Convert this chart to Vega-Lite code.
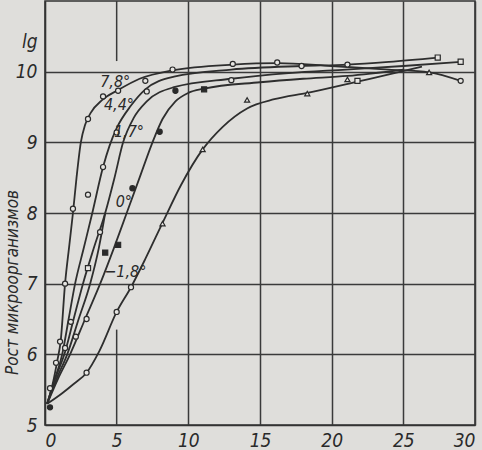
{
  "$schema": "https://vega.github.io/schema/vega-lite/v6.json",
  "width": 430,
  "height": 424,
  "autosize": {"type": "none"},
  "padding": {"left": 45, "top": 1, "right": 7, "bottom": 25},
  "background": "#dfdedb",
  "config": {
    "view": {"stroke": "#333333", "strokeWidth": 1.6},
    "axis": {
      "labelFont": "DejaVu Sans Condensed, Liberation Sans, sans-serif",
      "labelFontStyle": "italic",
      "labelFontSize": 19,
      "labelColor": "#2a2a2a",
      "ticks": false,
      "domainColor": "#333333",
      "domainWidth": 1.6,
      "gridWidth": 1.5
    }
  },
  "datasets": {
    "curves": [
      {"c": "7.8", "x": 0.15, "y": 5.3}, {"c": "7.8", "x": 0.5, "y": 5.55}, {"c": "7.8", "x": 0.85, "y": 5.9}, {"c": "7.8", "x": 1.1, "y": 6.2}, {"c": "7.8", "x": 1.4, "y": 7.0}, {"c": "7.8", "x": 1.7, "y": 7.55}, {"c": "7.8", "x": 1.95, "y": 8.0}, {"c": "7.8", "x": 2.2, "y": 8.5}, {"c": "7.8", "x": 2.5, "y": 9.0}, {"c": "7.8", "x": 2.8, "y": 9.25}, {"c": "7.8", "x": 3.2, "y": 9.42}, {"c": "7.8", "x": 4.0, "y": 9.6}, {"c": "7.8", "x": 5.1, "y": 9.74}, {"c": "7.8", "x": 6.6, "y": 9.9}, {"c": "7.8", "x": 8.9, "y": 10.02}, {"c": "7.8", "x": 13.1, "y": 10.1}, {"c": "7.8", "x": 16.2, "y": 10.12}, {"c": "7.8", "x": 20, "y": 10.08}, {"c": "7.8", "x": 24, "y": 10.03}, {"c": "7.8", "x": 26.8, "y": 9.99}, {"c": "7.8", "x": 29, "y": 9.87},
      {"c": "4.4", "x": 0.15, "y": 5.3}, {"c": "4.4", "x": 0.6, "y": 5.6}, {"c": "4.4", "x": 1.2, "y": 6.0}, {"c": "4.4", "x": 1.65, "y": 6.5}, {"c": "4.4", "x": 2.1, "y": 7.0}, {"c": "4.4", "x": 2.7, "y": 7.5}, {"c": "4.4", "x": 3.3, "y": 8.0}, {"c": "4.4", "x": 4.05, "y": 8.65}, {"c": "4.4", "x": 4.5, "y": 8.95}, {"c": "4.4", "x": 5.0, "y": 9.2}, {"c": "4.4", "x": 6.0, "y": 9.52}, {"c": "4.4", "x": 7.0, "y": 9.75}, {"c": "4.4", "x": 9, "y": 9.93}, {"c": "4.4", "x": 13, "y": 10.03}, {"c": "4.4", "x": 17.9, "y": 10.08}, {"c": "4.4", "x": 21.1, "y": 10.1}, {"c": "4.4", "x": 24, "y": 10.14}, {"c": "4.4", "x": 27.4, "y": 10.2},
      {"c": "1.7", "x": 0.15, "y": 5.3}, {"c": "1.7", "x": 0.7, "y": 5.65}, {"c": "1.7", "x": 1.35, "y": 6.0}, {"c": "1.7", "x": 2.0, "y": 6.5}, {"c": "1.7", "x": 2.65, "y": 7.0}, {"c": "1.7", "x": 3.4, "y": 7.5}, {"c": "1.7", "x": 4.2, "y": 8.0}, {"c": "1.7", "x": 4.85, "y": 8.5}, {"c": "1.7", "x": 5.45, "y": 9.0}, {"c": "1.7", "x": 6.2, "y": 9.35}, {"c": "1.7", "x": 7.1, "y": 9.58}, {"c": "1.7", "x": 9, "y": 9.78}, {"c": "1.7", "x": 13, "y": 9.9}, {"c": "1.7", "x": 17, "y": 9.98}, {"c": "1.7", "x": 21, "y": 10.03}, {"c": "1.7", "x": 25, "y": 10.08}, {"c": "1.7", "x": 29, "y": 10.14},
      {"c": "n", "x": 0.15, "y": 5.3}, {"c": "n", "x": 0.8, "y": 5.65}, {"c": "n", "x": 1.55, "y": 6.0}, {"c": "n", "x": 2.35, "y": 6.5}, {"c": "n", "x": 3.15, "y": 7.0}, {"c": "n", "x": 3.75, "y": 7.5}, {"c": "n", "x": 4.2, "y": 8.0},
      {"c": "0", "x": 0.15, "y": 5.3}, {"c": "0", "x": 0.9, "y": 5.65}, {"c": "0", "x": 1.75, "y": 6.0}, {"c": "0", "x": 2.8, "y": 6.5}, {"c": "0", "x": 3.85, "y": 7.0}, {"c": "0", "x": 4.8, "y": 7.5}, {"c": "0", "x": 5.7, "y": 8.0}, {"c": "0", "x": 6.6, "y": 8.5}, {"c": "0", "x": 7.5, "y": 9.0}, {"c": "0", "x": 8.2, "y": 9.33}, {"c": "0", "x": 9.1, "y": 9.58}, {"c": "0", "x": 10.0, "y": 9.7}, {"c": "0", "x": 11.1, "y": 9.76}, {"c": "0", "x": 15, "y": 9.85}, {"c": "0", "x": 18, "y": 9.9}, {"c": "0", "x": 21.1, "y": 9.94}, {"c": "0", "x": 25, "y": 10.03},
      {"c": "-1.8", "x": 0.15, "y": 5.3}, {"c": "-1.8", "x": 1.2, "y": 5.45}, {"c": "-1.8", "x": 2.0, "y": 5.58}, {"c": "-1.8", "x": 2.9, "y": 5.74}, {"c": "-1.8", "x": 3.8, "y": 6.05}, {"c": "-1.8", "x": 5.0, "y": 6.6}, {"c": "-1.8", "x": 6.0, "y": 6.95}, {"c": "-1.8", "x": 7.0, "y": 7.35}, {"c": "-1.8", "x": 8.2, "y": 7.86}, {"c": "-1.8", "x": 9.5, "y": 8.4}, {"c": "-1.8", "x": 11.0, "y": 8.9}, {"c": "-1.8", "x": 12.4, "y": 9.22}, {"c": "-1.8", "x": 14.1, "y": 9.48}, {"c": "-1.8", "x": 16, "y": 9.61}, {"c": "-1.8", "x": 18.3, "y": 9.7}, {"c": "-1.8", "x": 21.8, "y": 9.86}, {"c": "-1.8", "x": 24, "y": 9.96}, {"c": "-1.8", "x": 26.3, "y": 10.07}
    ],
    "points": [
      {"m": "o", "x": 0.35, "y": 5.52}, {"m": "o", "x": 0.77, "y": 5.88}, {"m": "o", "x": 1.05, "y": 6.18}, {"m": "o", "x": 1.4, "y": 6.09}, {"m": "o", "x": 1.4, "y": 7.0}, {"m": "o", "x": 1.8, "y": 6.46}, {"m": "o", "x": 2.15, "y": 6.25}, {"m": "o", "x": 1.95, "y": 8.06}, {"m": "o", "x": 2.9, "y": 6.5}, {"m": "o", "x": 2.9, "y": 5.74}, {"m": "o", "x": 3.0, "y": 8.26}, {"m": "o", "x": 3.0, "y": 9.33}, {"m": "o", "x": 3.84, "y": 7.73}, {"m": "o", "x": 4.05, "y": 8.65}, {"m": "o", "x": 4.05, "y": 9.65}, {"m": "o", "x": 5.0, "y": 9.14}, {"m": "o", "x": 5.1, "y": 9.73}, {"m": "o", "x": 5.0, "y": 6.6}, {"m": "o", "x": 6.0, "y": 6.95}, {"m": "o", "x": 7.0, "y": 9.87}, {"m": "o", "x": 7.1, "y": 9.72}, {"m": "o", "x": 8.9, "y": 10.03}, {"m": "o", "x": 13.0, "y": 9.88}, {"m": "o", "x": 13.1, "y": 10.11}, {"m": "o", "x": 16.2, "y": 10.13}, {"m": "o", "x": 17.9, "y": 10.08}, {"m": "o", "x": 21.1, "y": 10.1}, {"m": "o", "x": 29, "y": 9.87},
      {"m": "f", "x": 6.1, "y": 8.35}, {"m": "f", "x": 8.0, "y": 9.15}, {"m": "f", "x": 9.1, "y": 9.73}, {"m": "f", "x": 0.35, "y": 5.25},
      {"m": "fs", "x": 4.2, "y": 7.44}, {"m": "fs", "x": 5.1, "y": 7.55}, {"m": "fs", "x": 11.1, "y": 9.75},
      {"m": "s", "x": 3.0, "y": 7.22}, {"m": "s", "x": 21.8, "y": 9.87}, {"m": "s", "x": 27.4, "y": 10.2}, {"m": "s", "x": 29, "y": 10.14},
      {"m": "t", "x": 8.2, "y": 7.85}, {"m": "t", "x": 11.0, "y": 8.9}, {"m": "t", "x": 14.1, "y": 9.6}, {"m": "t", "x": 18.3, "y": 9.69}, {"m": "t", "x": 21.1, "y": 9.89}, {"m": "t", "x": 26.8, "y": 9.99}
    ],
    "labels": [
      {"x": 4.9, "y": 9.86, "t": "7,8°"},
      {"x": 5.16, "y": 9.53, "t": "4,4°"},
      {"x": 5.86, "y": 9.15, "t": "1,7°"},
      {"x": 5.5, "y": 8.16, "t": "0°"},
      {"x": 5.6, "y": 7.17, "t": "−1,8°"}
    ],
    "grid5": [
      {"x": 5, "y": 10.15, "y2": 11},
      {"x": 5, "y": 5, "y2": 6.35}
    ]
  },
  "layer": [
    {
      "data": {"name": "curves"},
      "mark": {"type": "line", "interpolate": "monotone", "color": "#2e2e2e", "strokeWidth": 1.8},
      "encoding": {
        "x": {
          "field": "x", "type": "quantitative",
          "scale": {"domain": [0, 30], "nice": false},
          "axis": {
            "title": null,
            "values": [0, 5, 10, 15, 20, 25, 30],
            "format": "d",
            "labelPadding": 6,
            "grid": true,
            "gridColor": {"condition": {"test": "datum.value == 5 || datum.value == 0", "value": "transparent"}, "value": "#3a3a3a"}
          }
        },
        "y": {
          "field": "y", "type": "quantitative",
          "scale": {"domain": [5, 11], "nice": false, "zero": false},
          "axis": {
            "title": "Рост  микроорганизмов",
            "titleFont": "DejaVu Sans Condensed, Liberation Sans, sans-serif",
            "titleFontStyle": "italic",
            "titleFontWeight": "normal",
            "titleFontSize": 17,
            "titleColor": "#2a2a2a",
            "titleAngle": 270,
            "titleAlign": "center",
            "titleBaseline": "middle",
            "titleX": -33,
            "titleY": 281,
            "values": [5, 6, 7, 8, 9, 10, 10.42],
            "format": "d",
            "labelExpr": "datum.value > 10.3 ? 'lg' : datum.label",
            "labelPadding": 8,
            "grid": true,
            "gridColor": {"condition": {"test": "datum.value > 10.3 || datum.value == 5", "value": "transparent"}, "value": "#3a3a3a"}
          }
        },
        "detail": {"field": "c", "type": "nominal"}
      }
    },
    {
      "data": {"name": "grid5"},
      "mark": {"type": "rule", "color": "#3a3a3a", "strokeWidth": 1.5},
      "encoding": {
        "x": {"field": "x", "type": "quantitative"},
        "y": {"field": "y", "type": "quantitative"},
        "y2": {"field": "y2"}
      }
    },
    {
      "data": {"name": "points"},
      "mark": {"type": "point", "filled": true, "stroke": "#2a2a2a", "strokeWidth": 1.2, "size": 26, "opacity": 1},
      "encoding": {
        "x": {"field": "x", "type": "quantitative"},
        "y": {"field": "y", "type": "quantitative"},
        "shape": {"field": "m", "type": "nominal", "legend": null,
          "scale": {"domain": ["o", "f", "s", "fs", "t"], "range": ["circle", "circle", "square", "square", "triangle-up"]}},
        "fill": {"field": "m", "type": "nominal", "legend": null,
          "scale": {"domain": ["o", "f", "s", "fs", "t"], "range": ["#e6e5e2", "#2a2a2a", "#e6e5e2", "#2a2a2a", "#e6e5e2"]}}
      }
    },
    {
      "data": {"name": "labels"},
      "mark": {"type": "text", "font": "DejaVu Sans Condensed, Liberation Sans, sans-serif", "fontStyle": "italic", "fontSize": 16, "color": "#2a2a2a", "align": "center", "baseline": "middle"},
      "encoding": {
        "x": {"field": "x", "type": "quantitative"},
        "y": {"field": "y", "type": "quantitative"},
        "text": {"field": "t", "type": "nominal"}
      }
    }
  ]
}
